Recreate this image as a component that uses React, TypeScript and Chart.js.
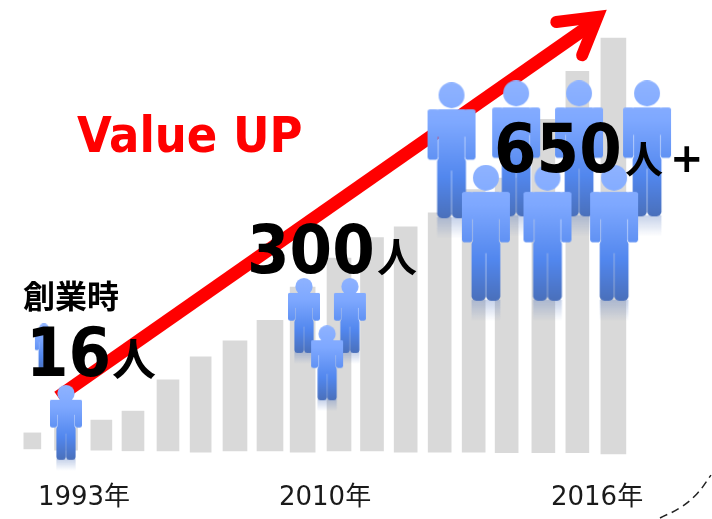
import React, { useEffect, useRef } from "react";
import { Chart, registerables } from "chart.js";

Chart.register(...registerables);

// Bars: place along the x axis, and [bottom, top] in axis units
const barIndex = [0.01, 1, 2.04, 2.97, 4, 4.96, 5.97, 7, 7.96, 9.03, 10, 10.99, 11.99, 12.99, 13.96, 15.04, 16.04, 17.1];
const barLow = [8, 6, 6, 5, 5, 3, 5, 5, 3, 5, 5, 3, 3, 3, 2, 2, 2, 0];
const barHigh = [33, 41, 53, 67, 116, 152, 177, 209, 261, 306, 338, 355, 377, 413, 431, 523, 598, 650];

const tickIndex = [1.53, 8.62, 16.62];
const tickLabels = ["1993年", "2010年", "2016年"];

// Pictograms (draw order: back to front)
const peopleX = [0.35, 1.0, 8.0, 9.35, 8.68, 12.34, 14.24, 16.09, 18.09, 13.35, 15.16, 17.12];
const peopleY = [162, 41, 208, 208, 134, 459, 462, 462, 462, 330, 330, 330];
const peopleSize = [0, 1, 1, 1, 1, 2, 2, 2, 2, 2, 2, 2];

// Growth arrow
const arrowShaftX = [0.765, 16.47];
const arrowShaftY = [89, 672];
const arrowHeadX = [15.42, 16.63, 16.18];
const arrowHeadY = [675, 683, 623];

// Dashed arc, bottom right corner
const arcX = [18.47, 19.06, 19.56, 19.97];
const arcY = [-100, -84, -62, -33];

const labels = [
  { text: "Value UP", x: 77, y: 152, font: "bold 50px 'DejaVu Sans Condensed', 'DejaVu Sans'", color: "#ff0000" },
  { text: "創業時", x: 23, y: 308, font: "bold 32px 'Noto Sans CJK JP'", color: "#000000" },
  { text: "16", x: 26, y: 376, font: "bold 68px 'DejaVu Sans Condensed', 'DejaVu Sans'", color: "#000000" },
  { text: "人", x: 112, y: 376, font: "bold 44px 'Noto Sans CJK JP'", color: "#000000" },
  { text: "300", x: 247, y: 273, font: "bold 68px 'DejaVu Sans Condensed', 'DejaVu Sans'", color: "#000000" },
  { text: "人", x: 377, y: 272, font: "bold 40px 'Noto Sans CJK JP'", color: "#000000" },
  { text: "650", x: 494, y: 172, font: "bold 68px 'DejaVu Sans Condensed', 'DejaVu Sans'", color: "#000000" },
  { text: "人", x: 625, y: 173, font: "bold 38px 'Noto Sans CJK JP'", color: "#000000" },
  { text: "+", x: 670, y: 172, font: "bold 40px 'DejaVu Sans'", color: "#000000" },
];

const barWidths = [17, 23, 21, 22, 22, 21, 24, 26, 25, 24, 23, 23, 23, 23, 23, 23, 23, 25];

const sizeTable = [
  { w: 18, h: 47, r: 7 },
  { w: 32, h: 75, r: 11 },
  { w: 48, h: 136, r: 20 },
];

function roundRect(c: CanvasRenderingContext2D, x: number, y: number, w: number, h: number, r: number) {
  c.beginPath();
  c.roundRect(x, y, w, h, r);
  c.fill();
}

function makePerson(w: number, h: number, r: number): HTMLCanvasElement {
  const cv = document.createElement("canvas");
  cv.width = w + 2;
  cv.height = h + r;
  const c = cv.getContext("2d")!;
  c.translate(1, 0);
  const g = c.createLinearGradient(0, 0, 0, h);
  g.addColorStop(0, "#8fb3ff");
  g.addColorStop(0.3, "#7ea8ff");
  g.addColorStop(0.7, "#5287ee");
  g.addColorStop(1, "#4a70bb");
  c.fillStyle = g;
  const headR = w * 0.27;
  c.beginPath();
  c.arc(w / 2, headR, headR, 0, Math.PI * 2);
  c.fill();
  const top = h * 0.2;
  // shoulders
  roundRect(c, 0, top, w, h * 0.2, w * 0.05);
  // arms
  roundRect(c, 0, top, w * 0.22, h * 0.57 - top, w * 0.07);
  roundRect(c, w * 0.78, top, w * 0.22, h * 0.57 - top, w * 0.07);
  // torso
  c.fillRect(w * 0.23, top, w * 0.54, h * 0.45);
  // legs
  roundRect(c, w * 0.2, h * 0.55, w * 0.295, h * 0.45, w * 0.1);
  roundRect(c, w * 0.505, h * 0.55, w * 0.295, h * 0.45, w * 0.1);
  // reflection
  const f = c.createLinearGradient(0, h, 0, h + r);
  f.addColorStop(0, "rgba(74,112,187,0.3)");
  f.addColorStop(1, "rgba(74,112,187,0)");
  c.fillStyle = f;
  c.fillRect(w * 0.2, h - 1, w * 0.6, r + 1);
  return cv;
}

const textPlugin = {
  id: "freeText",
  afterDatasetsUpdate(chart: Chart) {
    chart.getDatasetMeta(0).data.forEach((el: any, i: number) => {
      el.width = barWidths[i];
    });
  },
  afterDatasetsDraw(chart: Chart) {
    const c = chart.ctx;
    c.save();
    c.textBaseline = "alphabetic";
    c.textAlign = "left";
    for (const l of labels) {
      c.font = l.font;
      c.fillStyle = l.color;
      c.fillText(l.text, l.x, l.y);
    }
    c.restore();
  },
};

export default function App() {
  const ref = useRef<HTMLCanvasElement>(null);
  useEffect(() => {
    const images = peopleSize.map((s) => makePerson(sizeTable[s].w, sizeTable[s].h, sizeTable[s].r));
    const pairs = (xs: number[], ys: number[]) => xs.map((x, i) => ({ x, y: ys[i] }));
    const chart = new Chart(ref.current!, {
      type: "bar",
      plugins: [textPlugin],
      data: {
        datasets: [
          {
            type: "bar",
            label: "headcount",
            data: barIndex.map((x, i) => ({ x, y: [barLow[i], barHigh[i]] })),
            backgroundColor: "#d9d9d9",
            barThickness: 23,
            order: 5,
          },
          {
            type: "line",
            label: "arc",
            data: pairs(arcX, arcY),
            borderColor: "#222222",
            borderWidth: 1.5,
            borderDash: [8, 5],
            tension: 0.4,
            pointRadius: 0,
            clip: false,
            order: 4,
          },
          {
            type: "line",
            label: "shaft",
            data: pairs(arrowShaftX, arrowShaftY),
            borderColor: "#ff0000",
            borderWidth: 13,
            pointRadius: 0,
            clip: false,
            order: 3,
          },
          {
            type: "line",
            label: "head",
            data: pairs(arrowHeadX, arrowHeadY),
            borderColor: "#ff0000",
            borderWidth: 12,
            borderCapStyle: "round",
            borderJoinStyle: "miter",
            pointRadius: 0,
            clip: false,
            order: 2,
          },
          {
            type: "line",
            label: "people",
            data: pairs(peopleX, peopleY),
            showLine: false,
            pointStyle: images,
            pointRadius: 3,
            clip: false,
            order: 1,
          },
        ],
      } as any,
      options: {
        responsive: false,
        animation: false,
        devicePixelRatio: 1,
        events: [],
        layout: { padding: 0, autoPadding: false },
        plugins: { legend: { display: false }, tooltip: { enabled: false }, title: { display: false } },
        scales: {
          x: {
            type: "linear",
            offset: false,
            min: -32 / 34,
            max: 20,
            grid: { display: false, offset: false },
            border: { display: false },
            afterBuildTicks: (s: any) => {
              s.ticks = tickIndex.map((value) => ({ value }));
            },
            afterFit: (s: any) => {
              s.height = 49;
            },
            ticks: {
              autoSkip: false,
              maxRotation: 0,
              padding: 5,
              color: "#1a1a1a",
              font: { family: "'DejaVu Sans', 'Noto Sans CJK JP'", size: 26 },
              callback: (_v: any, i: number) => tickLabels[i],
            },
          },
          y: {
            type: "linear",
            display: false,
            min: -25,
            max: 454 / 0.64,
          },
        },
      } as any,
    });
    return () => chart.destroy();
  }, []);
  return (
    <div style={{ position: "absolute", left: 0, top: 0, width: 712, height: 519 }}>
      <canvas ref={ref} width={712} height={519} style={{ display: "block" }} />
    </div>
  );
}
